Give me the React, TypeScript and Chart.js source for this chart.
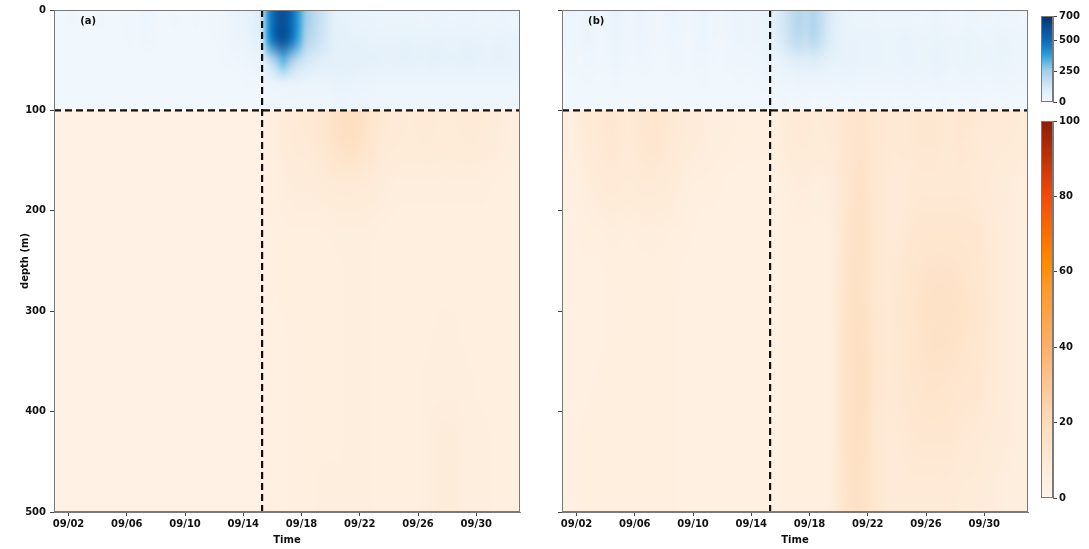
import React, { useEffect, useRef } from 'react';
import { Chart, registerables } from 'chart.js';

Chart.register(...registerables);

// ---------------- data ----------------
const X_MIN = 0; // 09/01 00:00 (days)
const X_MAX = 32; // 10/03 00:00
const X_TICKS = [1, 5, 9, 13, 17, 21, 25, 29];
const X_LABELS = ['09/02', '09/06', '09/10', '09/14', '09/18', '09/22', '09/26', '09/30'];
const DEPTH_TICKS = [0, 100, 200, 300, 400, 500];
const EVENT_DAY = 14.29;
const LAYER_DEPTH = 100;
const MAX_DEPTH = 500;
const BLUE_TICKS = [0, 250, 500, 700];
const BLUE_MAX = 700;
const ORANGE_TICKS = [0, 20, 40, 60, 80, 100];
const ORANGE_MAX = 100;

// upper layer: rows = 0-20, 20-40, 40-60, 60-80, 80-100 m ; columns = half days from 09/01
const BLUE_A: number[][] = [
  [22,22,24,22,20,22,24,22,22,24,26,24, 35,28, 22,22,24,22,22,24,22,24,26,30, 40,48,58,75, 130,420,560,600,520,400,270,210,160,120, 70,60,55,50,50,48,45, 42,40,42,45,40,38,42,45,40,38,40,42,40,38,36,38,40,36,34],
  [20,20,22,20,20,20,22,20,20,22,24,22, 30,25, 20,20,22,20,20,22,20,22,24,28, 35,42,52,65, 110,400,540,590,500,370,240,185,145,110, 75,70,65,62,60,58,55, 55,55,58,60,56,55,58,60,56,54,56,60,58,55,52,55,58,52,48],
  [20,20,20,20,20,20,20,20,20,20,22,20, 22,20, 20,20,20,20,20,20,20,20,22,24, 26,30,34,42, 55,150,260,330,260,180,130,105,90,80, 75,72,70,68,66,65,64, 62,62,64,66,62,60,64,66,62,60,62,66,64,60,58,60,62,58,54],
  [20,20,20,20,20,20,20,20,20,20,20,20, 20,20, 20,20,20,20,20,20,20,20,20,20, 20,22,24,26, 28,40,55,70,62,55,50,48,48,50, 55,58,56,52,50,48,46, 44,44,45,46,44,42,44,46,44,42,44,46,44,42,40,42,44,40,38],
  [20,20,20,20,20,20,20,20,20,20,20,20, 20,20, 20,20,20,20,20,20,20,20,20,20, 20,20,20,20, 22,25,28,30,30,28,28,28,30,32, 38,40,38,36,34,32,30, 30,30,31,32,30,29,30,32,30,29,30,32,30,29,28,29,30,28,27],
];

const BLUE_B: number[][] = [
  [30,38,32,45,35,28,40,50,34,30,42,36, 30,26, 34,40,30,28,36,44,32,28,34,40, 45,38,42,50, 60,90,130,170,210,190,220,180,120,80, 55,50,45,42,40,38,36, 34,36,38,34,32,36,40,34,30,32,36,34,30,28,32,36,30,28,26],
  [28,36,30,42,34,26,38,48,32,28,40,34, 28,24, 32,38,28,26,34,42,30,26,32,38, 42,36,40,46, 55,80,120,160,190,170,200,160,110,75, 60,58,55,52,50,48,45, 44,48,50,45,42,46,52,46,40,42,48,44,40,38,42,48,40,36,34],
  [24,28,26,32,28,24,30,36,28,24,30,28, 24,22, 26,30,24,22,28,32,26,22,26,30, 32,30,32,36, 40,50,65,80,90,85,95,85,70,60, 58,56,54,52,50,48,46, 46,50,52,48,44,48,54,48,42,44,50,46,42,40,44,50,42,38,36],
  [20,22,22,24,22,20,22,26,22,20,22,22, 20,20, 20,22,20,20,22,24,22,20,20,22, 24,22,24,26, 28,30,34,38,40,40,42,42,40,38, 40,40,38,38,36,36,34, 34,38,40,36,34,36,40,36,32,34,38,34,32,30,34,38,32,30,28],
  [20,20,20,20,20,20,20,20,20,20,20,20, 20,20, 20,20,20,20,20,20,20,20,20,20, 20,20,20,20, 22,22,24,22,22,24,22,22,22,24, 22,22,24,22,22,22,24, 22,22,22,24,22,22,22,24,22,22,22,24,22,22,22,22,22,22,22],
];

// lower layer: rows = 100-150, ..., 450-500 m ; columns = days from 09/01
const ORANGE_A: number[][] = [
  [3,3,3,3,3,3,3,3,3,3,3,3,3,3, 4,7,9,10,12,16,18,14,10,9,8,9,8,8,9,8,7,6],
  [3,3,3,3,3,3,3,3,3,3,3,3,3,3, 4,6,7,7,8,9,9,8,7,6,6,6,6,6,6,6,5,5],
  [3,3,3,3,3,3,3,3,3,3,3,3,3,3, 4,5,5,5,5,6,6,6,5,5,5,5,5,5,5,5,5,5],
  [3,3,3,3,3,3,3,3,3,3,3,3,3,3, 4,5,5,5,5,5,6,6,5,5,5,5,5,5,5,5,5,5],
  [3,3,3,3,3,3,3,3,3,3,3,3,3,3, 4,4,5,5,5,5,6,6,5,5,5,5,6,6,5,5,5,5],
  [3,3,3,3,3,3,3,3,3,3,3,3,3,3, 4,4,5,5,5,5,6,6,5,5,5,6,6,6,6,5,5,5],
  [3,3,3,3,3,3,3,3,3,3,3,3,3,3, 4,4,5,5,5,5,6,6,5,5,5,6,7,7,6,6,5,5],
  [3,3,3,3,3,3,3,3,3,3,3,3,3,3, 4,4,5,5,6,6,6,6,5,5,5,6,7,7,6,6,5,5],
];

const ORANGE_B: number[][] = [
  [5,8,10,11,9,11,12,10,8,7,6,6,5,5, 5,8,9,8,9,12,14,11,10,10,11,11,10,11,10,9,9,8],
  [4,6,8,9,8,9,9,8,6,5,5,4,4,4, 4,6,7,6,7,12,15,11,9,9,10,10,10,10,9,8,7,6],
  [4,5,5,6,5,6,6,5,5,4,4,4,4,4, 4,5,5,5,6,13,16,11,9,10,12,12,12,12,11,9,7,6],
  [4,4,4,5,5,5,5,5,4,4,4,4,4,4, 4,5,5,5,6,14,16,11,10,12,14,15,15,14,12,10,7,6],
  [4,4,4,5,5,5,5,5,4,4,4,4,4,4, 4,5,5,5,6,15,17,12,10,12,14,15,15,14,12,10,7,6],
  [4,4,5,5,5,5,5,5,4,4,4,4,4,4, 4,5,5,5,6,15,18,12,10,11,13,14,13,12,11,9,7,6],
  [4,5,5,5,5,5,5,5,4,4,4,4,4,4, 4,5,5,5,6,15,17,11,9,10,11,11,11,10,9,8,7,6],
  [4,5,5,5,5,5,5,5,4,4,4,4,4,4, 4,5,5,5,6,14,16,11,9,9,9,9,9,8,8,7,6,6],
];

// ---------------- colour maps ----------------
const BLUE_STOPS: [number, string][] = [
  [0, '#f5fafe'], [100, '#dcecf8'], [250, '#a6cfe9'], [330, '#5cb5e3'], [380, '#2e9fd9'],
  [450, '#167ec6'], [520, '#0b64b0'], [600, '#0a4f96'], [700, '#08306b'],
];
const ORANGE_STOPS: [number, string][] = [
  [0, '#fff5eb'], [20, '#fddcbc'], [40, '#fdb06a'], [55, '#fd9a30'], [62, '#ff8c00'],
  [80, '#f24a0a'], [100, '#8c1d04'],
];

const FONT = { family: "'DejaVu Sans', sans-serif", size: 10, weight: 'bold' as const };
const TEXT = '#111111';
const SPINE = '#7a7a7a';

function hexToRgb(h: string): number[] {
  const n = parseInt(h.slice(1), 16);
  return [(n >> 16) & 255, (n >> 8) & 255, n & 255];
}
function colorAt(stops: [number, string][], v: number): number[] {
  if (!(v > stops[0][0])) return hexToRgb(stops[0][1]);
  for (let i = 1; i < stops.length; i++) {
    if (v <= stops[i][0]) {
      const [v0, c0] = stops[i - 1];
      const [v1, c1] = stops[i];
      const t = (v - v0) / (v1 - v0);
      const a = hexToRgb(c0), b = hexToRgb(c1);
      return [0, 1, 2].map((k) => Math.round(a[k] + (b[k] - a[k]) * t));
    }
  }
  return hexToRgb(stops[stops.length - 1][1]);
}

function drawLayer(ctx: CanvasRenderingContext2D, grid: number[][], stops: [number, string][], xs: any, ys: any, d0: number, d1: number) {
  const rows = grid.length, cols = grid[0].length;
  const off = document.createElement('canvas');
  off.width = cols; off.height = rows;
  const octx = off.getContext('2d')!;
  const img = octx.createImageData(cols, rows);
  for (let r = 0; r < rows; r++) for (let c = 0; c < cols; c++) {
    const [R, G, B] = colorAt(stops, grid[r][c]);
    const i = (r * cols + c) * 4;
    img.data[i] = R; img.data[i + 1] = G; img.data[i + 2] = B; img.data[i + 3] = 255;
  }
  octx.putImageData(img, 0, 0);
  const x0 = xs.getPixelForValue(X_MIN), x1 = xs.getPixelForValue(X_MAX);
  const y0 = ys.getPixelForValue(d0), y1 = ys.getPixelForValue(d1);
  ctx.imageSmoothingEnabled = true;
  (ctx as any).imageSmoothingQuality = 'high';
  ctx.drawImage(off, x0, y0, x1 - x0, y1 - y0);
}

function panelPlugin(blue: number[][], orange: number[][], label: string) {
  return {
    id: 'heat' + label,
    beforeDatasetsDraw(chart: any) {
      const { ctx, chartArea: a, scales } = chart;
      ctx.save();
      ctx.beginPath();
      ctx.rect(a.left, a.top, a.right - a.left, a.bottom - a.top);
      ctx.clip();
      drawLayer(ctx, blue, BLUE_STOPS, scales.x, scales.y, 0, LAYER_DEPTH);
      drawLayer(ctx, orange, ORANGE_STOPS, scales.x, scales.y, LAYER_DEPTH, MAX_DEPTH);
      ctx.restore();
    },
    afterDatasetsDraw(chart: any) {
      const { ctx, chartArea: a, scales } = chart;
      ctx.save();
      ctx.strokeStyle = '#111';
      ctx.lineWidth = 2.2;
      ctx.setLineDash([7, 4]);
      const yl = scales.y.getPixelForValue(LAYER_DEPTH);
      ctx.beginPath(); ctx.moveTo(a.left, yl); ctx.lineTo(a.right, yl); ctx.stroke();
      const xl = scales.x.getPixelForValue(EVENT_DAY);
      ctx.beginPath(); ctx.moveTo(xl, a.top); ctx.lineTo(xl, a.bottom); ctx.stroke();
      ctx.setLineDash([]);
      ctx.lineWidth = 1;
      ctx.strokeStyle = SPINE;
      ctx.strokeRect(a.left + 0.5, a.top + 0.5, a.right - a.left - 1, a.bottom - a.top - 1);
      ctx.fillStyle = TEXT;
      ctx.font = "bold 10px 'DejaVu Sans', sans-serif";
      ctx.textAlign = 'center';
      ctx.textBaseline = 'middle';
      ctx.fillText(label, scales.x.getPixelForValue(2.35), scales.y.getPixelForValue(11));
      ctx.restore();
    },
  };
}

function panelConfig(blue: number[][], orange: number[][], label: string, showY: boolean, yWidth: number, padRight: number): any {
  return {
    type: 'scatter',
    data: { datasets: [] },
    plugins: [panelPlugin(blue, orange, label)],
    options: {
      responsive: false,
      animation: false,
      layout: { padding: { left: 0, right: padRight, top: 9, bottom: 0 } },
      plugins: { legend: { display: false }, tooltip: { enabled: false } },
      scales: {
        x: {
          type: 'linear', min: X_MIN, max: X_MAX,
          afterBuildTicks: (s: any) => { s.ticks = X_TICKS.map((v) => ({ value: v })); },
          afterFit: (s: any) => { s.height = 37; },
          ticks: { callback: (_v: any, i: number) => X_LABELS[i], font: FONT, color: TEXT, padding: 2, maxRotation: 0, autoSkip: false },
          grid: { drawOnChartArea: false, drawTicks: true, tickLength: 4, color: '#444' },
          border: { color: SPINE },
          title: { display: true, text: 'Time', font: FONT, color: TEXT, padding: { top: 0, bottom: 3 } },
        },
        y: {
          type: 'linear', min: 0, max: MAX_DEPTH, reverse: true,
          afterBuildTicks: (s: any) => { s.ticks = DEPTH_TICKS.map((v) => ({ value: v })); },
          afterFit: (s: any) => { s.width = yWidth; },
          ticks: { callback: (v: any) => (showY ? String(v) : ''), font: FONT, color: TEXT, padding: 4 },
          grid: { drawOnChartArea: false, drawTicks: true, tickLength: 4, color: '#444' },
          border: { color: SPINE },
          title: { display: showY, text: 'depth (m)', font: FONT, color: TEXT, padding: { top: 19, bottom: 0 } },
        },
      },
    },
  };
}

function colorbarConfig(stops: [number, string][], max: number, ticks: number[], padTop: number, padBottom: number): any {
  return {
    type: 'scatter',
    data: { datasets: [] },
    plugins: [{
      id: 'cbar',
      beforeDatasetsDraw(chart: any) {
        const { ctx, chartArea: a } = chart;
        const g = ctx.createLinearGradient(0, a.bottom, 0, a.top);
        stops.forEach(([v, c]) => g.addColorStop(v / max, c));
        ctx.save();
        ctx.fillStyle = g;
        ctx.fillRect(a.left, a.top, a.right - a.left, a.bottom - a.top);
        ctx.strokeStyle = SPINE;
        ctx.lineWidth = 1;
        ctx.strokeRect(a.left + 0.5, a.top + 0.5, a.right - a.left - 1, a.bottom - a.top - 1);
        ctx.restore();
      },
    }],
    options: {
      responsive: false,
      animation: false,
      layout: { padding: { left: 11, right: 0, top: padTop, bottom: padBottom } },
      plugins: { legend: { display: false }, tooltip: { enabled: false } },
      scales: {
        x: { type: 'linear', display: false, min: 0, max: 1 },
        y: {
          type: 'linear', position: 'right', min: 0, max,
          afterBuildTicks: (s: any) => { s.ticks = ticks.map((v) => ({ value: v })); },
          afterFit: (s: any) => { s.width = 36; },
          ticks: { font: FONT, color: TEXT, padding: 2, callback: (v: any) => String(v) },
          grid: { drawOnChartArea: false, drawTicks: true, tickLength: 4, color: '#444' },
          border: { color: SPINE },
        },
      },
    },
  };
}

export default function App() {
  const aRef = useRef<HTMLCanvasElement>(null);
  const bRef = useRef<HTMLCanvasElement>(null);
  const c1Ref = useRef<HTMLCanvasElement>(null);
  const c2Ref = useRef<HTMLCanvasElement>(null);

  useEffect(() => {
    const charts = [
      new Chart(aRef.current!, panelConfig(BLUE_A, ORANGE_A, '(a)', true, 54, 20)),
      new Chart(bRef.current!, panelConfig(BLUE_B, ORANGE_B, '(b)', false, 22, 2)),
      new Chart(c1Ref.current!, colorbarConfig(BLUE_STOPS, BLUE_MAX, BLUE_TICKS, 16, 13)),
      new Chart(c2Ref.current!, colorbarConfig(ORANGE_STOPS, ORANGE_MAX, ORANGE_TICKS, 16, 17)),
    ];
    return () => charts.forEach((c) => c.destroy());
  }, []);

  const pos = (left: number, top: number, w: number, h: number): React.CSSProperties => ({
    position: 'absolute', left, top, width: w, height: h,
  });

  return (
    <div style={{ position: 'fixed', left: 0, top: 0, width: 1089, height: 549, background: '#ffffff' }}>
      <canvas ref={aRef} width={540} height={549} style={pos(0, 0, 540, 549)} />
      <canvas ref={bRef} width={490} height={549} style={pos(540, 0, 490, 549)} />
      <canvas ref={c1Ref} width={59} height={115} style={pos(1030, 0, 59, 115)} />
      <canvas ref={c2Ref} width={59} height={410} style={pos(1030, 105, 59, 410)} />
    </div>
  );
}
